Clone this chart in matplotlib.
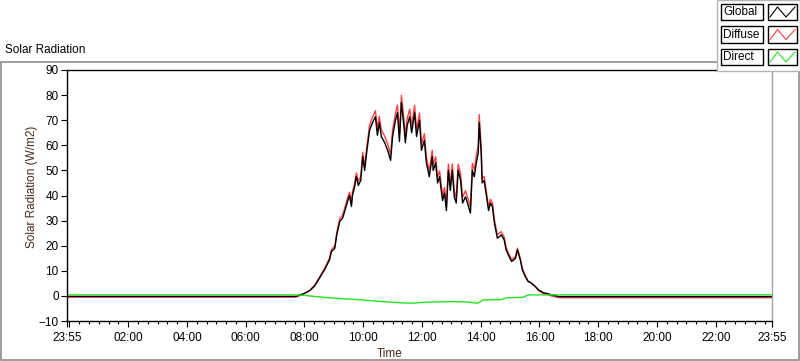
import numpy as np
import matplotlib.pyplot as plt
from matplotlib.patches import Rectangle
from matplotlib.lines import Line2D

plt.rcParams['font.family'] = ['Liberation Sans', 'DejaVu Sans']

# time in minutes after 00:00 (chart runs 23:55 -> 23:55)
g_t = [-5, 462, 470, 480, 491, 501, 511, 521, 531, 535,
       542, 546, 552, 558, 562, 568, 572, 576, 578, 582,
       586, 590, 595, 599, 603, 607, 613, 619, 625, 629,
       633, 637, 644, 650, 656, 660, 666, 670, 674, 678,
       684, 686, 690, 695, 699, 705, 709, 715, 719, 725,
       729, 735, 741, 743, 748, 752, 756, 762, 766, 770,
       774, 778, 782, 786, 790, 794, 799, 803, 809, 813,
       819, 823, 827, 831, 835, 837, 841, 843, 847, 852,
       856, 860, 864, 868, 874, 878, 882, 888, 892, 898,
       903, 907, 911, 915, 921, 925, 931, 937, 943, 952,
       958, 968, 978, 988, 1000, 1435]
global_v = [-0.2, -0.2, 0.3, 1.0, 2.1, 4.0, 7.2, 10.4, 14.3, 17.6,
            19.0, 24.3, 29.6, 31.0, 33.6, 37.6, 40.0, 35.6, 40.0, 43.0,
            47.5, 44.0, 46.0, 55.5, 50.0, 57.0, 66.0, 69.0, 71.4, 64.0,
            69.0, 63.5, 61.0, 58.0, 54.0, 63.5, 70.0, 73.0, 61.5, 77.0,
            66.0, 61.0, 68.0, 71.4, 65.0, 73.0, 63.5, 70.0, 58.0, 62.0,
            53.0, 47.5, 55.5, 50.0, 53.0, 45.0, 47.5, 38.0, 41.0, 34.0,
            50.0, 42.0, 50.0, 39.5, 37.0, 50.0, 46.0, 37.0, 39.5, 37.0,
            33.0, 50.0, 47.5, 53.0, 57.0, 69.0, 57.0, 45.0, 46.0, 39.5,
            34.0, 37.0, 35.5, 29.0, 23.0, 23.6, 24.3, 22.3, 18.3, 15.7,
            13.7, 14.3, 15.0, 18.3, 14.3, 10.4, 7.7, 5.7, 5.2, 3.7,
            2.4, 1.3, 0.8, 0.3, -0.3, -0.3]
diffuse_v = [-0.5, -0.5, 0.1, 1.0, 2.3, 4.3, 7.6, 10.9, 15.0, 18.4,
             19.9, 25.3, 30.7, 32.2, 34.8, 38.9, 41.3, 37.0, 41.4, 44.5,
             49.0, 45.5, 47.6, 57.1, 51.7, 58.8, 68.0, 71.2, 73.8, 66.5,
             71.5, 66.1, 63.6, 60.5, 56.4, 66.1, 72.8, 76.0, 64.3, 79.9,
             68.8, 63.8, 70.9, 74.4, 67.8, 75.9, 66.2, 72.8, 60.5, 64.6,
             55.4, 49.8, 58.0, 52.4, 55.4, 47.3, 49.8, 40.2, 43.2, 36.2,
             52.5, 44.3, 52.5, 41.8, 39.2, 52.5, 48.4, 39.3, 41.9, 39.4,
             35.5, 52.8, 50.2, 55.9, 60.0, 72.2, 59.4, 46.7, 47.6, 41.1,
             35.5, 38.5, 37.0, 30.4, 24.4, 25.0, 25.6, 23.4, 19.2, 16.5,
             14.5, 15.0, 15.7, 19.0, 14.9, 11.0, 8.1, 5.9, 5.2, 3.5,
             2.1, 0.9, 0.4, -0.2, -0.7, -0.7]

d_t = [-5, 462, 480, 511, 542, 597, 620, 650, 680, 700,
       720, 750, 780, 810, 832, 836, 845, 880, 895, 925,
       938, 1435]
direct_v = [0.4, 0.4, 0.2, -0.4, -0.9, -1.6, -2.0, -2.4, -2.8, -2.9,
            -2.6, -2.4, -2.3, -2.4, -2.9, -2.7, -1.6, -1.5, -0.7, -0.6,
            0.4, 0.4]

tick_pos = [-5, 0, 120, 240, 360, 480, 600, 720, 840, 960, 1080, 1200, 1320, 1435]
tick_lab = ['23:55', '', '02:00', '04:00', '06:00', '08:00', '10:00', '12:00',
            '14:00', '16:00', '18:00', '20:00', '22:00', '23:55']

series = ['Global', 'Diffuse', 'Direct']
colors = ['black', '#ff3c3c', '#1ee61e']

W, H = 800, 361


def fx(px):
    return px / W


def fy(py):
    return 1 - py / H


fig = plt.figure(figsize=(8, 3.61), dpi=100)
fig.patch.set_facecolor('white')

# outer frame of the control
fig.add_artist(Rectangle((fx(0.5), fy(359.5)), fx(799) - fx(0.5), fy(62) - fy(359.5),
                         fill=False, edgecolor='#8c8c8c', lw=1.2))
fig.text(fx(5), fy(50), 'Solar Radiation', fontsize=8.5, va='center', ha='left')

ax = fig.add_axes([fx(67), fy(321), fx(772) - fx(67), fy(70) - fy(321)])
ax.plot(g_t, diffuse_v, color=colors[1], lw=1.0)
ax.plot(g_t, global_v, color=colors[0], lw=1.0)
ax.plot(d_t, direct_v, color=colors[2], lw=1.0)

ax.set_xlim(-5, 1435)
ax.set_ylim(-10, 90)
ax.set_yticks(np.arange(-10, 91, 10))
ax.set_xticks(tick_pos)
ax.set_xticklabels(tick_lab)
ax.set_xticks(np.arange(0, 1435, 20), minor=True)
ax.tick_params(axis='both', labelsize=8.5, colors='black', width=0.8, length=4, pad=2)
ax.tick_params(axis='x', pad=4)
ax.tick_params(axis='x', which='minor', length=2.5, width=0.8)
for s in ['left', 'top', 'bottom']:
    ax.spines[s].set_color('black')
    ax.spines[s].set_linewidth(1.0)
ax.spines['right'].set_color('#a0a0a0')
ax.spines['right'].set_linewidth(1.0)
ax.set_ylabel('Solar Radiation (W/m2)', fontsize=8.5, color='#4b2a16', va='center')
ax.yaxis.set_label_coords((32 - 67) / 705, (321 - 187) / 251)
ax.set_xlabel('Time', fontsize=8.5, color='#4b2a16', va='center')
ax.xaxis.set_label_coords((390 - 67) / 705, (321 - 354) / 251)

# legend panel at top right
fig.add_artist(Rectangle((fx(717), fy(71)), fx(800) - fx(717), fy(0) - fy(71),
                         facecolor='white', edgecolor='#b4b4b4', lw=1.0))
for i, (name, c) in enumerate(zip(series, colors)):
    top = 4 + i * 22.5
    bot = top + 16
    fig.add_artist(Rectangle((fx(721), fy(bot)), fx(763) - fx(721), fy(top) - fy(bot),
                             facecolor='white', edgecolor='black', lw=1.0))
    fig.text(fx(723), fy((top + bot) / 2), name, fontsize=8.5, va='center', ha='left')
    fig.add_artist(Rectangle((fx(768), fy(bot)), fx(797) - fx(768), fy(top) - fy(bot),
                             facecolor='white', edgecolor='black', lw=1.0))
    xs = [fx(770), fx(777.5), fx(786), fx(795)]
    ys = [fy(bot - 3), fy(top + 3), fy(bot - 3), fy(top + 3)]
    fig.add_artist(Line2D(xs, ys, color=c, lw=0.8))

fig.savefig('out.png', dpi=100)
